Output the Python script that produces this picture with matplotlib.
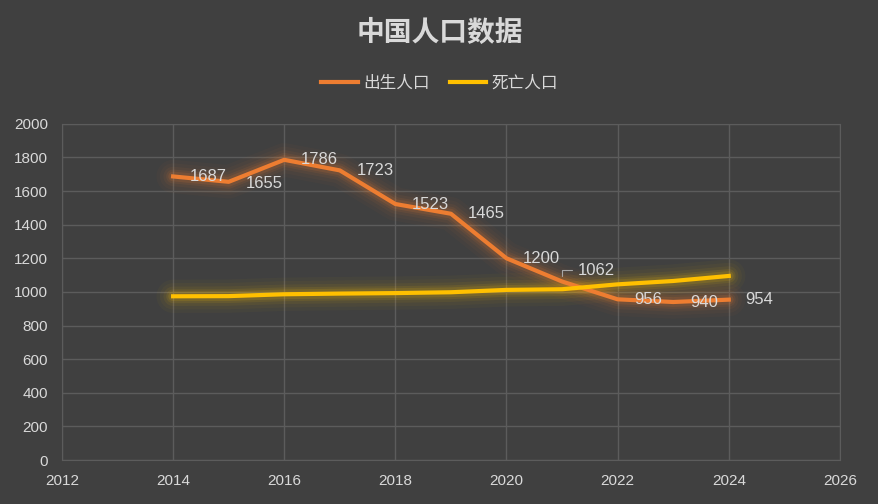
import matplotlib
matplotlib.use("Agg")
import matplotlib.pyplot as plt
from matplotlib.ticker import MultipleLocator

plt.rcParams["font.family"] = ["Noto Sans CJK SC", "DejaVu Sans"]

years = [2014, 2015, 2016, 2017, 2018, 2019, 2020, 2021, 2022, 2023, 2024]
births = [1687, 1655, 1786, 1723, 1523, 1465, 1200, 1062, 956, 940, 954]
deaths = [974, 975, 986, 990, 993, 998, 1012, 1016, 1045, 1065, 1095]

title = "中国人口数据"
series_names = ["出生人口", "死亡人口"]

BG = "#404040"
GRID = "#5c5c5c"
TXT = "#d9d9d9"
ORANGE = "#ED7D31"
YELLOW = "#FFC000"
NUMFONT = ["Liberation Sans", "DejaVu Sans"]

fig = plt.figure(figsize=(8.79, 5.04), dpi=100, facecolor=BG)
ax = fig.add_axes([0.0705, 0.0873, 0.885, 0.667], facecolor=BG)


def glow_line(x, y, color, label):
    for lw, a in [(24, 0.03), (19, 0.04), (14, 0.06), (10, 0.09), (7, 0.13)]:
        ax.plot(x, y, color=color, lw=lw, alpha=a, solid_joinstyle="round",
                solid_capstyle="round", zorder=2)
    ax.plot(x, y, color=color, lw=3, solid_joinstyle="round", label=label, zorder=3)


glow_line(years, births, ORANGE, series_names[0])
glow_line(years, deaths, YELLOW, series_names[1])

ax.set_xlim(2012, 2026)
ax.set_ylim(0, 2000)
ax.xaxis.set_major_locator(MultipleLocator(2))
ax.yaxis.set_major_locator(MultipleLocator(200))
ax.grid(True, color=GRID, lw=1)
ax.set_axisbelow(True)
for s in ax.spines.values():
    s.set_color(GRID)
ax.tick_params(length=0, colors=TXT, labelsize=11, pad=10)
for lbl in ax.get_xticklabels() + ax.get_yticklabels():
    lbl.set_family(NUMFONT)

# data labels (offsets in points)
offsets = [(12, 0)] * len(years)
offsets[1] = (12, -1)
offsets[7] = (10, 8)
for i, (x, y) in enumerate(zip(years, births)):
    dx, dy = offsets[i]
    if i == 7:
        ax.annotate(str(y), (x, y), xytext=(dx + 1, dy), textcoords="offset points",
                    ha="left", va="center", color=TXT, fontsize=12, family=NUMFONT,
                    zorder=5,
                    arrowprops=dict(arrowstyle="-", color="#a6a6a6", lw=0.8,
                                    shrinkA=2, shrinkB=4,
                                    connectionstyle="angle,angleA=0,angleB=90,rad=0"))
    else:
        ax.annotate(str(y), (x, y), xytext=(dx, dy), textcoords="offset points",
                    ha="left", va="center", color=TXT, fontsize=12, family=NUMFONT,
                    zorder=5)

fig.text(0.5, 0.935, title, ha="center", va="center", color=TXT,
         fontsize=20, fontweight="bold")
leg = fig.legend(loc="center", bbox_to_anchor=(0.5, 0.835), ncol=2, frameon=False,
                 fontsize=12, handlelength=2.2, handletextpad=0.3, columnspacing=1.2)
for t in leg.get_texts():
    t.set_color(TXT)

fig.savefig("out.png", dpi=100, facecolor=BG)
